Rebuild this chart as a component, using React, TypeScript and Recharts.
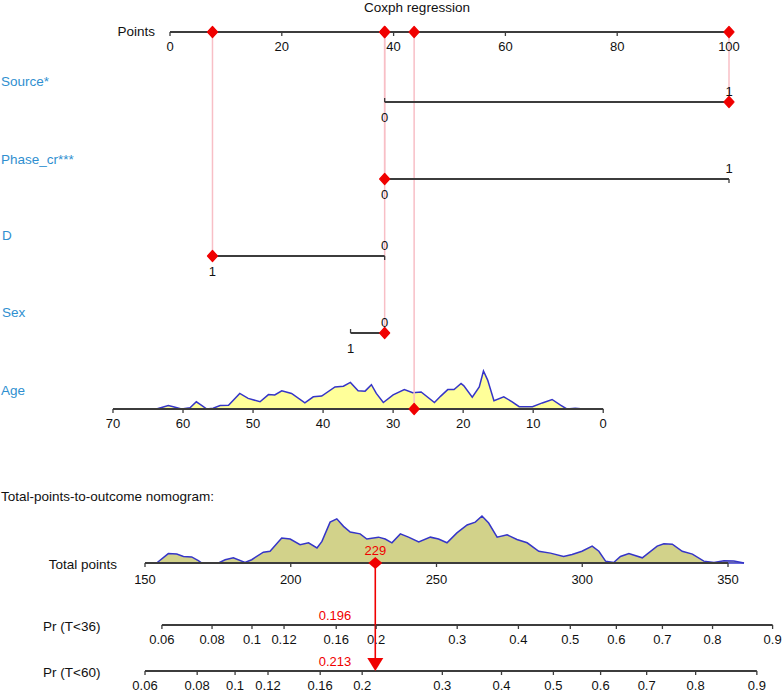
import React from "react";
import { Area, ComposedChart, Line, ReferenceLine, Scatter, XAxis, YAxis } from "recharts";

const FONT = '"Liberation Sans", Arial, Helvetica, sans-serif';
const W = 784;
const H = 692;

// ---------- values ----------
const pointTicks = [0, 20, 40, 60, 80, 100];

const sourceLevels = ["0", "1"];
const sourcePoints = [38.4, 100];
const phaseLevels = ["0", "1"];
const phasePoints = [38.4, 100];
const dLevels = ["0", "1"];
const dPoints = [38.4, 7.6];
const sexLevels = ["0", "1"];
const sexPoints = [38.4, 32.3];

const ageTicks = [70, 60, 50, 40, 30, 20, 10, 0];
const agePointsAtZero = 77.5;
const agePointsAtSeventy = -10.2;
const ageGrid = [63.8, 62.1, 61.4, 60.2, 59.0, 58.1, 57.4, 56.6, 55.7, 54.7, 53.5, 51.9, 50.7, 49.0, 47.8, 46.9, 45.9, 44.5, 42.6, 41.4, 40.2, 38.3, 37.1, 36.1, 35.0, 34.0, 33.1, 32.4, 31.4, 30.0, 28.4, 27.2, 26.0, 24.1, 23.2, 22.2, 21.3, 20.3, 19.9, 18.7, 17.7, 17.1, 16.5, 15.6, 14.2, 13.0, 12.0, 10.1, 8.7, 7.3, 6.1, 5.2, 4.0, 2.8];
const ageDensity = [0, 0.09, 0.06, 0, 0.03, 0.19, 0.1, 0, 0.02, 0.09, 0.1, 0.41, 0.28, 0.19, 0.38, 0.37, 0.48, 0.41, 0.16, 0.32, 0.34, 0.58, 0.6, 0.7, 0.48, 0.47, 0.64, 0.41, 0.17, 0.37, 0.51, 0.43, 0.45, 0.17, 0.34, 0.51, 0.51, 0.67, 0.61, 0.31, 0.58, 1.0, 0.76, 0.22, 0.32, 0.19, 0.06, 0.06, 0.16, 0.25, 0.1, 0, 0.02, 0];

const totalTicks = [150, 200, 250, 300, 350];
const totalGrid = [154.0, 158.0, 160.9, 163.2, 166.0, 168.3, 169.5, 175.2, 177.5, 180.3, 184.3, 186.6, 190.6, 192.9, 196.9, 199.8, 203.2, 206.1, 209.0, 210.7, 213.5, 215.8, 218.1, 220.4, 223.8, 226.1, 230.1, 232.4, 234.7, 237.6, 240.4, 243.9, 247.9, 250.7, 253.6, 257.0, 260.5, 263.3, 265.6, 267.9, 270.8, 274.2, 277.6, 281.1, 285.1, 289.1, 293.6, 296.5, 299.9, 303.4, 305.7, 308.0, 310.8, 313.1, 316.0, 320.6, 325.7, 328.0, 330.9, 334.3, 337.8, 341.7, 345.2, 348.6, 352.0, 355.5];
const totalDensity = [0, 0.2, 0.19, 0.14, 0.13, 0.05, 0, 0, 0.07, 0.11, 0.01, 0.07, 0.23, 0.25, 0.53, 0.51, 0.39, 0.43, 0.32, 0.46, 0.87, 0.94, 0.78, 0.66, 0.62, 0.51, 0.55, 0.51, 0.43, 0.62, 0.55, 0.45, 0.55, 0.51, 0.43, 0.64, 0.81, 0.87, 1.0, 0.85, 0.55, 0.6, 0.5, 0.43, 0.25, 0.21, 0.14, 0.18, 0.25, 0.36, 0.25, 0.04, 0.01, 0.14, 0.2, 0.11, 0.36, 0.41, 0.4, 0.25, 0.19, 0.04, 0.01, 0.05, 0.04, 0];

const prTicks = [0.06, 0.08, 0.1, 0.12, 0.16, 0.2, 0.3, 0.4, 0.5, 0.6, 0.7, 0.8, 0.9];
const pr36AtTotal = [155.8, 173.0, 186.7, 197.7, 215.6, 229.3, 257.1, 278.1, 295.9, 311.7, 327.5, 344.7, 365.3];
const pr60AtTotal = [150.0, 167.9, 180.9, 192.2, 210.1, 224.5, 252.0, 272.3, 290.1, 306.3, 322.1, 338.9, 359.9];

// the highlighted patient
const patientSource = "1";
const patientPhase = "0";
const patientD = "1";
const patientSex = "0";
const patientAge = 27;
const patientTotal = 229;
const patientPr36 = "0.196";
const patientPr60 = "0.213";

// ---------- layout / style ----------
const ROW = { points: 32, source: 102, phase: 179, d: 256, sex: 333, age: 409, total: 563, pr36: 625, pr60: 671 };
const PTS_X0 = 170;
const PTS_X100 = 729;
const pxPerPt = (PTS_X100 - PTS_X0) / 100;
const ptsDomain = [-PTS_X0 / pxPerPt, (W - PTS_X0) / pxPerPt];
const TOT_X150 = 145;
const TOT_X350 = 728;
const pxPerTot = (TOT_X350 - TOT_X150) / 200;
const totDomain = [150 - TOT_X150 / pxPerTot, 150 + (W - TOT_X150) / pxPerTot];

const AXIS = "#3c3c3c";
const PINK = "#f8bfc6";
const RED = "#f00000";
const BLUE_TXT = "#2f8fd0";
const CURVE = "#3535c8";
const AGE_H = 38;
const TOT_H = 47;

const agePts = (a: number) => agePointsAtZero + ((agePointsAtSeventy - agePointsAtZero) * a) / 70;

const seg = (x1: number, x2: number, y: number) => [
  { x: x1, y },
  { x: x2, y },
];

const axisTick = (len: number, dy: number) => (props: any) => {
  const { cx, cy, payload } = props;
  return (
    <g>
      <line x1={cx} y1={cy} x2={cx} y2={cy + len} stroke={AXIS} strokeWidth={1.3} />
      <text x={cx} y={cy + dy} textAnchor="middle" dominantBaseline="central" fontSize={13} fontFamily={FONT} fill="#111">
        {payload.label}
      </text>
    </g>
  );
};

const levelTick = (props: any) => {
  const { cx, cy, payload } = props;
  const up = payload.above;
  return (
    <g>
      <line x1={cx} y1={cy} x2={cx} y2={cy + (up ? 4 : -4)} stroke={AXIS} strokeWidth={1.3} />
      <text x={cx} y={cy + (up ? -11 : 15)} textAnchor="middle" dominantBaseline="central" fontSize={13} fontFamily={FONT} fill="#111">
        {payload.label}
      </text>
    </g>
  );
};

const dotShape = (props: any) => {
  const { cx, cy } = props;
  return <polygon points={`${cx},${cy - 5.5} ${cx + 5},${cy} ${cx},${cy + 5.5} ${cx - 5},${cy}`} fill={RED} stroke={RED} strokeWidth={1.2} strokeLinejoin="round" />;
};

const totalShape = (props: any) => {
  const { cx, cy } = props;
  return (
    <g>
      <polygon points={`${cx},${cy - 6} ${cx + 7},${cy} ${cx},${cy + 6} ${cx - 7},${cy}`} fill={RED} />
      <text x={cx} y={cy - 13} textAnchor="middle" dominantBaseline="central" fontSize={13} fontFamily={FONT} fill={RED}>
        {patientTotal}
      </text>
    </g>
  );
};

const arrowHead = (props: any) => {
  const { cx, cy } = props;
  return <polygon points={`${cx - 8},${cy - 13} ${cx + 8},${cy - 13} ${cx},${cy}`} fill={RED} />;
};

const prLabel = (props: any) => {
  const { cx, cy, payload } = props;
  return (
    <text x={cx - 24} y={cy - 10} textAnchor="end" dominantBaseline="central" fontSize={13} fontFamily={FONT} fill={RED}>
      {payload.label}
    </text>
  );
};

const variables = [
  { y: ROW.source, levels: sourceLevels, pts: sourcePoints, pick: patientSource },
  { y: ROW.phase, levels: phaseLevels, pts: phasePoints, pick: patientPhase },
  { y: ROW.d, levels: dLevels, pts: dPoints, pick: patientD },
  { y: ROW.sex, levels: sexLevels, pts: sexPoints, pick: patientSex },
];

function UpperChart() {
  const picked = variables.map((v) => ({ x: v.pts[v.levels.indexOf(v.pick)], y: v.y }));
  picked.push({ x: agePts(patientAge), y: ROW.age });
  const ageArea = ageGrid.map((a, i) => ({ x: agePts(a), y: [ROW.age, ROW.age - ageDensity[i] * AGE_H] }));
  return (
    <ComposedChart width={W} height={H} margin={{ top: 0, right: 0, bottom: 0, left: 0 }}>
      <XAxis type="number" dataKey="x" domain={ptsDomain} allowDataOverflow hide />
      <YAxis type="number" dataKey="y" domain={[0, H]} reversed allowDataOverflow hide />
      {picked.map((p, i) => (
        <Line key={"guide" + i} data={[{ x: p.x, y: ROW.points }, { x: p.x, y: p.y }]} dataKey="y" stroke={PINK} strokeWidth={1.5} dot={false} activeDot={false} isAnimationActive={false} />
      ))}
      <Area data={ageArea} dataKey="y" type="linear" fill="#ffff99" fillOpacity={1} stroke={CURVE} strokeWidth={1.5} dot={false} activeDot={false} isAnimationActive={false} />
      <Line data={seg(0, 100, ROW.points)} dataKey="y" stroke={AXIS} strokeWidth={2} dot={false} activeDot={false} isAnimationActive={false} />
      <Scatter data={pointTicks.map((t) => ({ x: t, y: ROW.points, label: String(t) }))} dataKey="y" shape={axisTick(4, 14)} isAnimationActive={false} />
      {variables.map((v, i) => (
        <Line key={"var" + i} data={seg(Math.min(...v.pts), Math.max(...v.pts), v.y)} dataKey="y" stroke={AXIS} strokeWidth={2} dot={false} activeDot={false} isAnimationActive={false} />
      ))}
      {variables.map((v, i) => (
        <Scatter
          key={"lev" + i}
          data={v.levels.map((l, j) => ({ x: v.pts[j], y: v.y, label: l, above: v.pts[j] === Math.max(...v.pts) }))}
          dataKey="y"
          shape={levelTick}
          isAnimationActive={false}
        />
      ))}
      <Line data={seg(agePts(70), agePts(0), ROW.age)} dataKey="y" stroke={AXIS} strokeWidth={2} dot={false} activeDot={false} isAnimationActive={false} />
      <Scatter data={ageTicks.map((a) => ({ x: agePts(a), y: ROW.age, label: String(a) }))} dataKey="y" shape={axisTick(4, 14)} isAnimationActive={false} />
      <Scatter data={picked.map((p) => ({ x: p.x, y: ROW.points }))} dataKey="y" shape={dotShape} isAnimationActive={false} />
      <Scatter data={picked} dataKey="y" shape={dotShape} isAnimationActive={false} />
    </ComposedChart>
  );
}

function LowerChart() {
  const totArea = totalGrid.map((t, i) => ({ x: t, y: [ROW.total, ROW.total - totalDensity[i] * TOT_H] }));
  const prRows = [
    { y: ROW.pr36, at: pr36AtTotal, result: patientPr36 },
    { y: ROW.pr60, at: pr60AtTotal, result: patientPr60 },
  ];
  return (
    <ComposedChart width={W} height={H} margin={{ top: 0, right: 0, bottom: 0, left: 0 }}>
      <XAxis type="number" dataKey="x" domain={totDomain} allowDataOverflow hide />
      <YAxis type="number" dataKey="y" domain={[0, H]} reversed allowDataOverflow hide />
      <Area data={totArea} dataKey="y" type="linear" fill="#d2d28a" fillOpacity={1} stroke={CURVE} strokeWidth={1.5} dot={false} activeDot={false} isAnimationActive={false} />
      <ReferenceLine segment={seg(totalTicks[0], totalTicks[totalTicks.length - 1], ROW.total)} stroke={AXIS} strokeWidth={2} />
      <Scatter data={totalTicks.map((t) => ({ x: t, y: ROW.total, label: String(t) }))} dataKey="y" shape={axisTick(4, 16)} isAnimationActive={false} />
      {prRows.map((r, i) => (
        <ReferenceLine key={"pr" + i} segment={seg(r.at[0], r.at[r.at.length - 1], r.y)} stroke={AXIS} strokeWidth={2} />
      ))}
      {prRows.map((r, i) => (
        <Scatter key={"prt" + i} data={prTicks.map((p, j) => ({ x: r.at[j], y: r.y, label: String(p) }))} dataKey="y" shape={axisTick(4, 14)} isAnimationActive={false} />
      ))}
      <Line data={[{ x: patientTotal, y: ROW.total }, { x: patientTotal, y: ROW.pr60 - 12 }]} dataKey="y" stroke={RED} strokeWidth={1.6} dot={false} activeDot={false} isAnimationActive={false} />
      <Scatter data={[{ x: patientTotal, y: ROW.pr60 }]} dataKey="y" shape={arrowHead} isAnimationActive={false} />
      <Scatter data={[{ x: patientTotal, y: ROW.total }]} dataKey="y" shape={totalShape} isAnimationActive={false} />
      <Scatter data={prRows.map((r) => ({ x: patientTotal, y: r.y, label: r.result }))} dataKey="y" shape={prLabel} isAnimationActive={false} />
    </ComposedChart>
  );
}

const Txt = ({ x, y, children, color = "#111", anchor = "left" }: any) => (
  <div
    style={{
      position: "absolute",
      top: y,
      left: x,
      transform: anchor === "center" ? "translate(-50%, -50%)" : anchor === "right" ? "translate(-100%, -50%)" : "translateY(-50%)",
      fontSize: 13.5,
      lineHeight: "16px",
      whiteSpace: "nowrap",
      color,
      fontFamily: FONT,
    }}
  >
    {children}
  </div>
);

export default function App() {
  return (
    <div style={{ position: "absolute", left: 0, top: 0, width: W, height: H, background: "#fff", overflow: "hidden" }}>
      <div style={{ position: "absolute", left: 0, top: 0 }}>
        <UpperChart />
      </div>
      <div style={{ position: "absolute", left: 0, top: 0 }}>
        <LowerChart />
      </div>
      <Txt x={417} y={8} anchor="center">Coxph regression</Txt>
      <Txt x={155} y={ROW.points} anchor="right">Points</Txt>
      <Txt x={1} y={ROW.source - 20} color={BLUE_TXT}>Source*</Txt>
      <Txt x={1} y={ROW.phase - 19} color={BLUE_TXT}>Phase_cr***</Txt>
      <Txt x={2} y={ROW.d - 20} color={BLUE_TXT}>D</Txt>
      <Txt x={2} y={ROW.sex - 20} color={BLUE_TXT}>Sex</Txt>
      <Txt x={1} y={ROW.age - 18} color={BLUE_TXT}>Age</Txt>
      <Txt x={1} y={497}>Total-points-to-outcome nomogram:</Txt>
      <Txt x={117} y={ROW.total + 2} anchor="right">Total points</Txt>
      <Txt x={43} y={ROW.pr36 + 2}>Pr (T&lt;36)</Txt>
      <Txt x={43} y={ROW.pr60 + 2}>Pr (T&lt;60)</Txt>
    </div>
  );
}
